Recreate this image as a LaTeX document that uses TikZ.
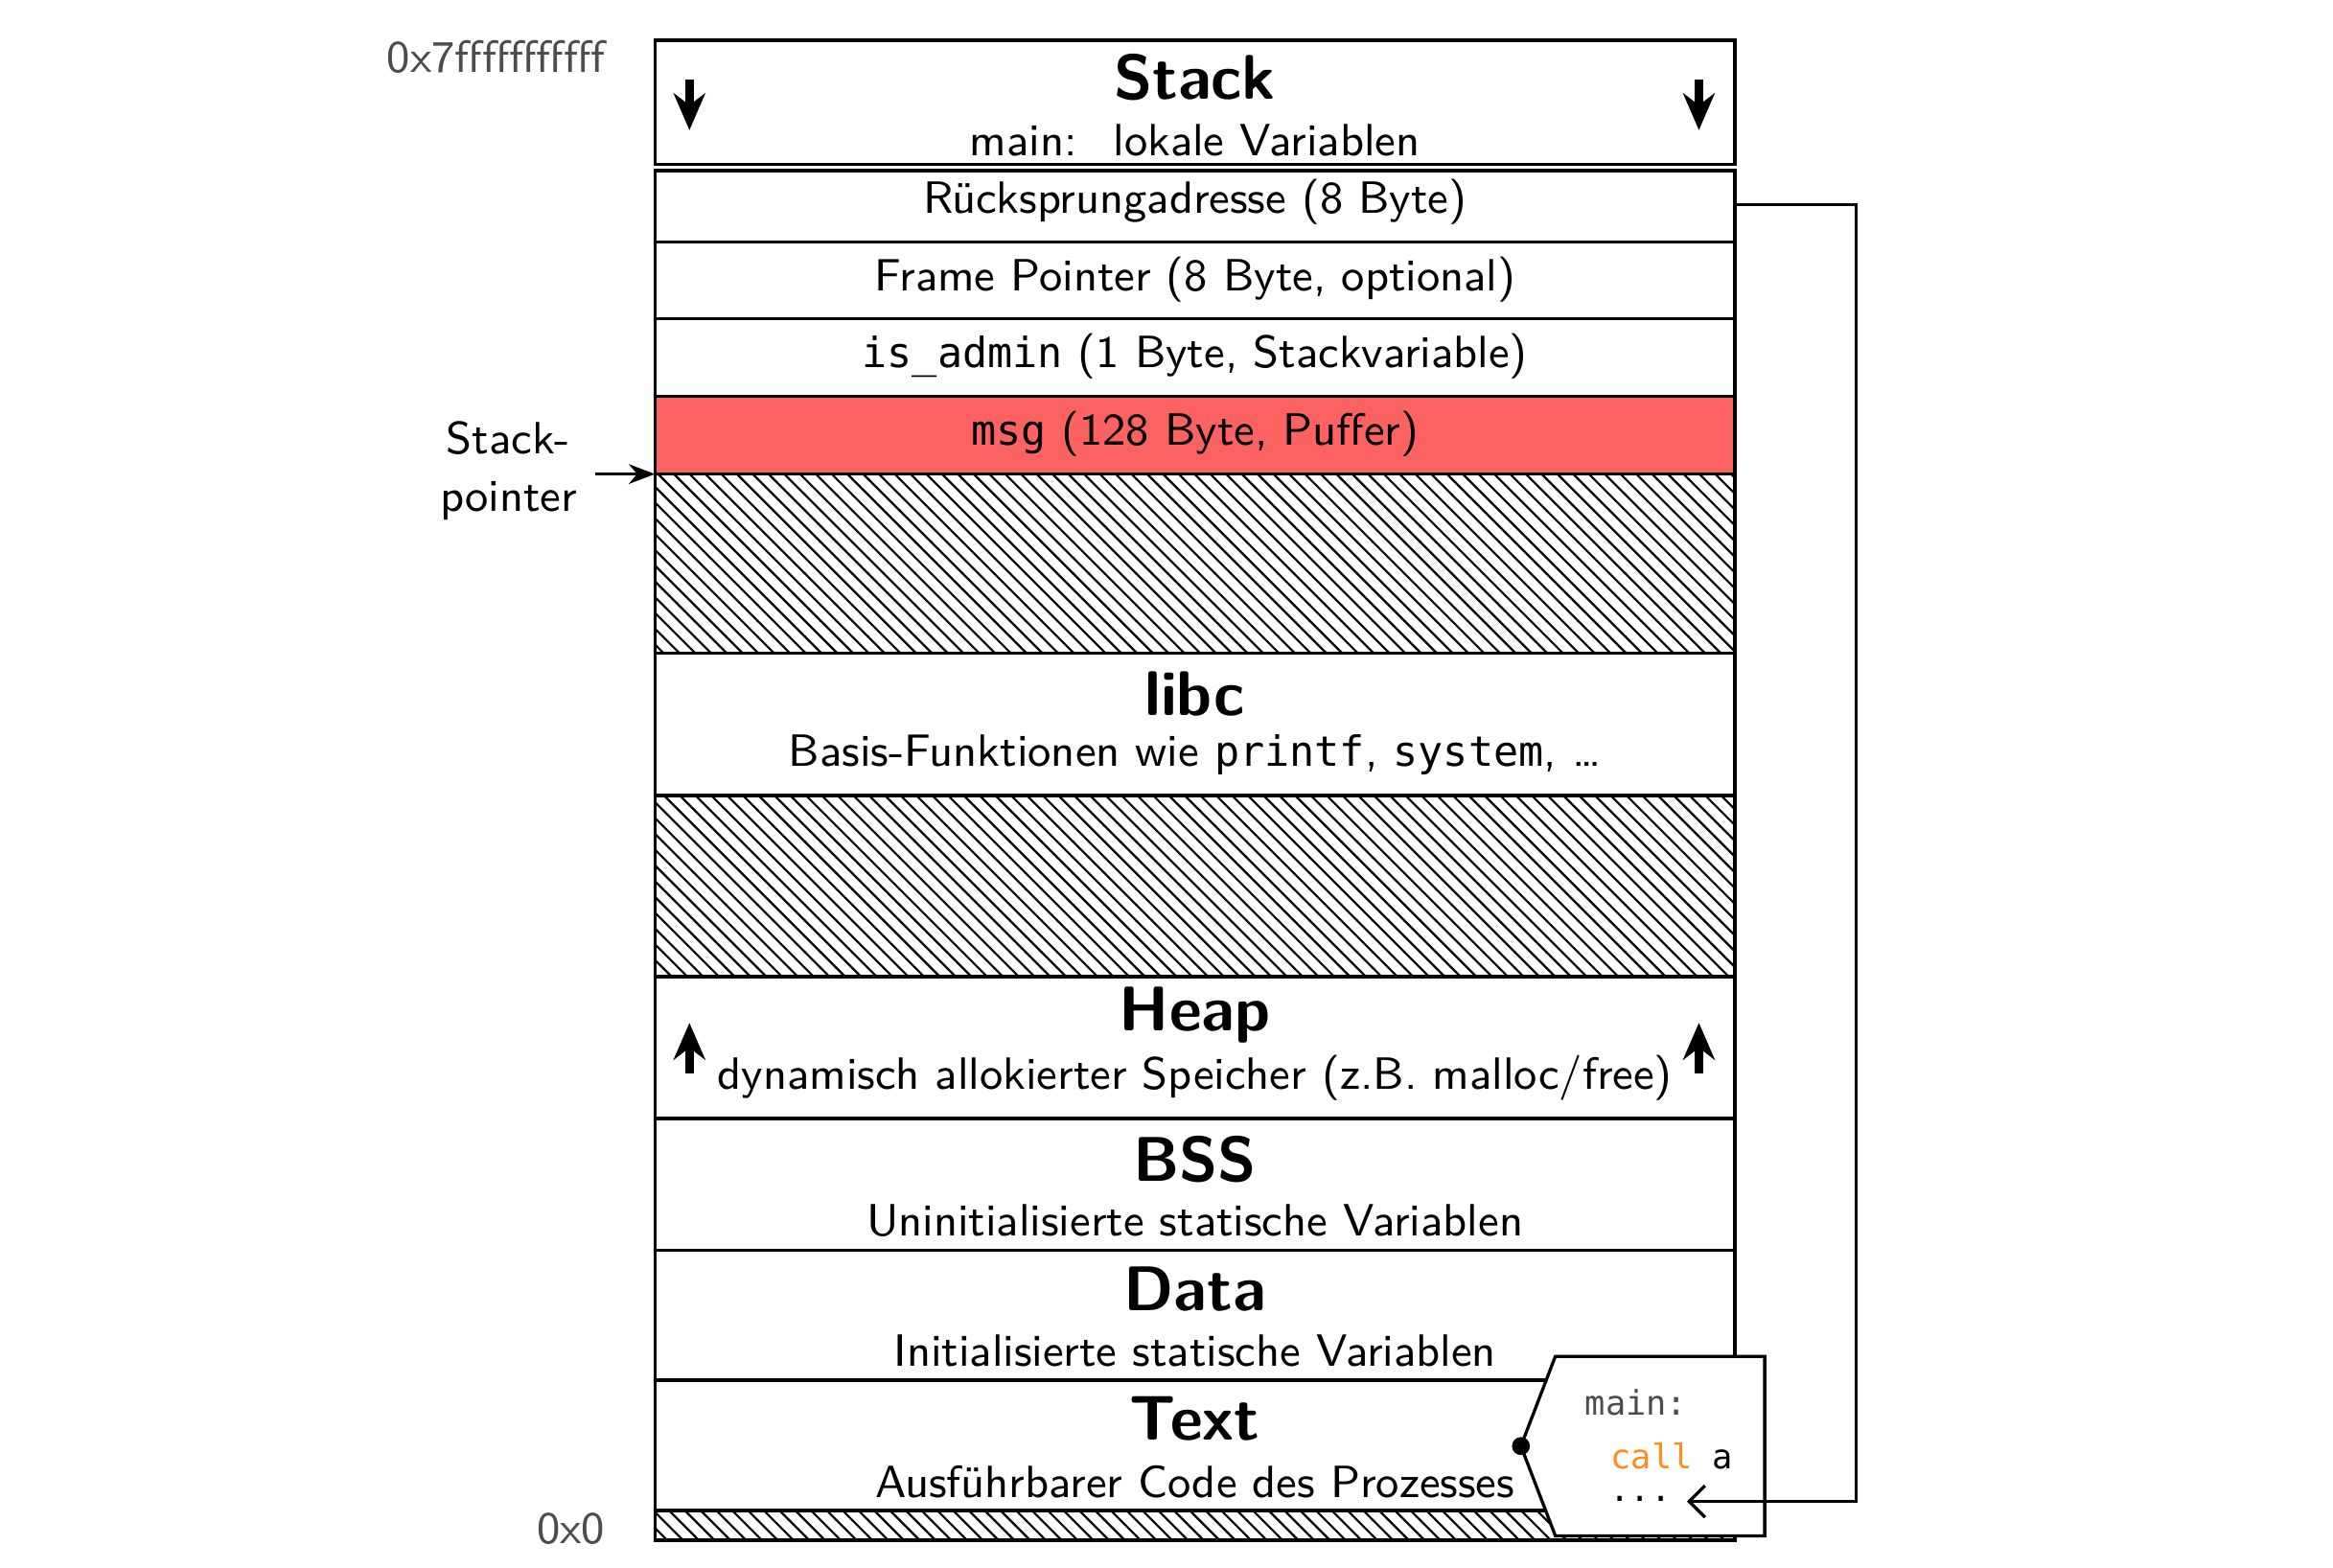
\documentclass[tikz,border=0pt]{standalone}
\usepackage{fontspec}
\setmonofont{DejaVu Sans Mono}[Scale=0.92]
\usetikzlibrary{patterns,arrows.meta}
\definecolor{bufred}{RGB}{253,98,98}
\definecolor{kworange}{RGB}{255,140,30}
\tikzset{
  seg/.style={draw,semithick},
  hatch/.style={draw,semithick,pattern=north west lines},
  title/.style={font=\sffamily\bfseries\fontsize{12}{14}\selectfont},
  body/.style={font=\sffamily\fontsize{8.6}{11}\selectfont},
  addr/.style={font=\sffamily\fontsize{8.6}{11}\selectfont,text=black!70},
  code/.style={font=\ttfamily\fontsize{7}{9}\selectfont},
  growarrow/.style={-{Stealth[length=7pt,width=6pt]},line width=1.6pt},
}
\begin{document}
\begin{tikzpicture}[x=0.01cm,y=-0.01cm]
		\useasboundingbox (0,0) rectangle (1560,1048);
		% segments
		\draw[seg] (438,27) rectangle (1160,110);
		\draw[seg] (438,114) rectangle (1160,162);
		\draw[seg] (438,162) rectangle (1160,213);
		\draw[seg] (438,213) rectangle (1160,265);
		\draw[seg,fill=bufred] (438,265) rectangle (1160,317);
		\draw[hatch] (438,317) rectangle (1160,437);
		\draw[seg] (438,437) rectangle (1160,532);
		\draw[hatch] (438,532) rectangle (1160,653);
		\draw[seg] (438,653) rectangle (1160,748);
		\draw[seg] (438,748) rectangle (1160,836);
		\draw[seg] (438,836) rectangle (1160,923);
		\draw[seg] (438,923) rectangle (1160,1010);
		\draw[hatch] (438,1010) rectangle (1160,1030);

		\node[title] (stack) at (799,52) {Stack};
		\node[body] (stackd) at (799,94) {main:~ lokale Variablen};
		\node[body] (ret) at (799,135) {Rücksprungadresse (8 Byte)};
		\node[body] (fp) at (799,187) {Frame Pointer (8 Byte, optional)};
		\node[body] (isadm) at (799,238) {\texttt{is\_admin} (1 Byte, Stackvariable)};
		\node[body] (msg) at (799,290) {\texttt{msg} (128 Byte, Puffer)};
		\node[title] (libc) at (799,464) {libc};
		\node[body] (libcd) at (799,505) {Basis-Funktionen wie \texttt{printf}, \texttt{system}, \dots};
		\node[title] (heap) at (799,679) {Heap};
		\node[body] (heapd) at (799,721) {dynamisch allokierter Speicher (z.B. malloc/free)};
		\node[title] (bss) at (799,775) {BSS};
		\node[body] (bssd) at (799,816) {Uninitialisierte statische Variablen};
		\node[title] (data) at (799,862) {Data};
		\node[body] (datad) at (799,903) {Initialisierte statische Variablen};
		\node[title] (text) at (799,949) {Text};
		\node[body] (textd) at (799,991) {Ausführbarer Code des Prozesses};

		% growth arrows
		\draw[growarrow] (461,53) -- (461,87);
		\draw[growarrow] (1136,53) -- (1136,87);
		\draw[growarrow] (461,718) -- (461,684);
		\draw[growarrow] (1136,718) -- (1136,684);

		% addresses
		\node[addr,anchor=east] (top) at (417,38) {0x7fffffffffff};
		\node[addr,anchor=east] (bot) at (417,1022) {0x0};
		\node[body,align=center] (sp) at (340,315) {Stack-\\pointer};
		\coordinate (spin) at (438,317);
		\draw[-{Stealth[length=5pt]},semithick] (398,317) -- (spin);

		% code callout
		\draw[semithick,fill=white] (1040,907) -- (1180,907) -- (1180,1027) -- (1040,1027) -- (1017,967) -- cycle;
		\fill (1017,967) circle (6);
		\node[code,text=black!70] (mainl) at (1094,938) {main:};
		\node[code] (call) at (1118,974) {\textcolor{kworange}{call} a};
		\node[code,inner sep=1pt] (dots) at (1097,1002) {...};
		\coordinate (retout) at (1160,137);
		\draw[-{Straight Barb[length=3pt,width=6pt]},semithick] (retout) -- (1241,137) -- (1241,1004) -- (1128,1004);
\end{tikzpicture}
\end{document}
